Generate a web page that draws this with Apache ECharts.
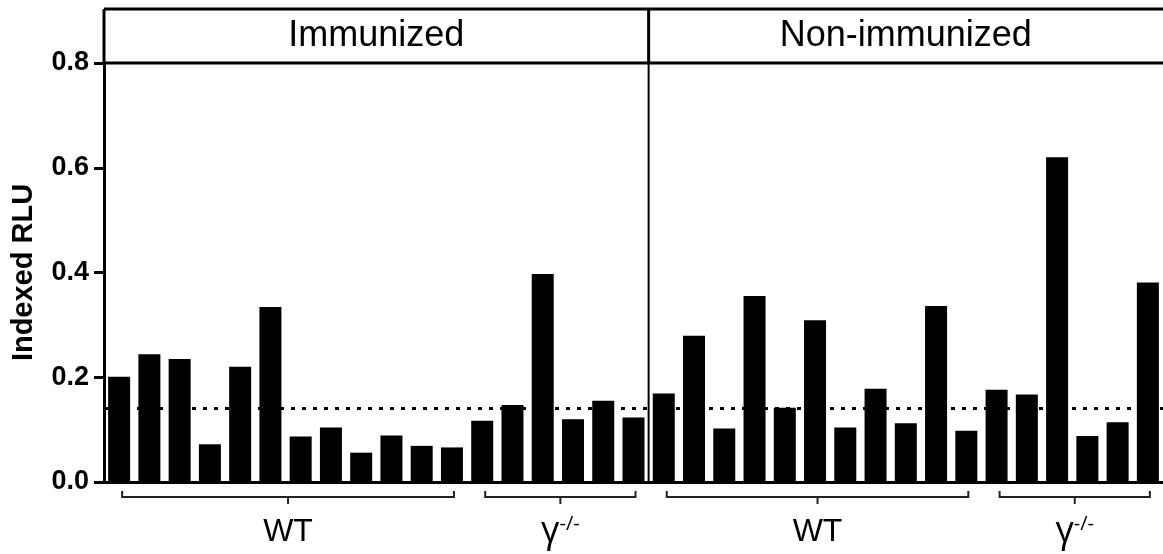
<!DOCTYPE html>
<html lang="en">
<head>
    <meta charset="UTF-8">
    <title>Indexed RLU</title>
    <style>
        html, body { margin: 0; padding: 0; background: #fff; }
        #box { width: 1163px; height: 554px; }
    </style>
    <script src="https://cdn.jsdelivr.net/npm/echarts@6/dist/echarts.min.js"></script>
</head>
<body>
<div id="box"></div>
<script>
    // panel titles and group labels
    const panels = ['Immunized', 'Non-immunized'];
    const groupNames = ['WT', 'γ-/-'];

    // bar values
    const immWT = [0.201, 0.244, 0.235, 0.072, 0.220, 0.334, 0.087, 0.104, 0.056, 0.089, 0.069, 0.066];
    const immKO = [0.117, 0.147, 0.397, 0.120, 0.155, 0.123];
    const nonWT = [0.169, 0.279, 0.102, 0.355, 0.142, 0.309, 0.104, 0.178, 0.112, 0.336, 0.098];
    const nonKO = [0.176, 0.167, 0.620, 0.088, 0.114, 0.381];

    // dotted cut-off line
    const cutoff = 0.143;

    // y axis ticks
    const yMin = 0, yMax = 0.8, yStep = 0.2;

    (function () {
        const FONT = '"Liberation Sans", Arial, sans-serif';
        const groups = [
            { panel: 0, label: groupNames[0], values: immWT },
            { panel: 0, label: groupNames[1], values: immKO },
            { panel: 1, label: groupNames[0], values: nonWT },
            { panel: 1, label: groupNames[1], values: nonKO }
        ];

        // one category per bar
        let cats = [], vals = [];
        groups.forEach(function (g) {
            g.first = cats.length;
            g.values.forEach(function (v, i) {
                cats.push(panels[g.panel] + ' ' + g.label + ' ' + (i + 1));
                vals.push(v);
            });
            g.last = cats.length - 1;
        });

        let chart = echarts.init(box);
        chart.setOption({
            animation: false,
            grid: { left: 104, right: 0, top: 63, bottom: 72, containLabel: false, outerBoundsMode: 'none' },
            xAxis: {
                type: 'category',
                data: cats,
                axisLine: { lineStyle: { color: '#000', width: 3 } },
                axisTick: { show: false },
                axisLabel: { show: false }
            },
            yAxis: {
                type: 'value',
                min: yMin, max: yMax, interval: yStep,
                name: 'Indexed RLU',
                nameLocation: 'middle',
                nameGap: 66,
                nameTextStyle: { color: '#000', fontSize: 29, fontWeight: 'bold', fontFamily: FONT },
                axisLine: { show: true, lineStyle: { color: '#000', width: 3 } },
                axisTick: { show: true, length: 10, lineStyle: { color: '#000', width: 3 } },
                axisLabel: {
                    margin: 15, color: '#000', fontSize: 27, fontWeight: 'bold', fontFamily: FONT,
                    formatter: function (v) { return v.toFixed(1); }
                },
                splitLine: { show: false }
            },
            series: [{
                type: 'bar',
                data: vals,
                barWidth: 22,
                itemStyle: { color: '#000' },
                markLine: {
                    silent: true,
                    symbol: 'none',
                    label: { show: false },
                    lineStyle: { color: '#000', width: 3, type: [4, 7] },
                    data: [{ yAxis: cutoff }]
                }
            }]
        });

        // frame, panel headers and group brackets from the axis scales
        const W = chart.getWidth();
        const px = function (i) { return chart.convertToPixel({ xAxisIndex: 0 }, cats[i]); };
        const py = function (v) { return chart.convertToPixel({ yAxisIndex: 0 }, v); };
        const x0 = px(0) - (px(1) - px(0)) / 2;
        const yTop = py(yMax), yBase = py(yMin);
        const headTop = yTop - 54;
        const split = (px(groups[1].last) + px(groups[2].first)) / 2;

        const line = function (pts, w, c) {
            return { type: 'polyline', shape: { points: pts }, style: { stroke: c || '#000', lineWidth: w, fill: null }, z: 10 };
        };

        let g = [
            line([[x0, headTop], [W, headTop]], 3),
            line([[x0, headTop], [x0, yTop]], 3),
            line([[x0, yTop], [W, yTop]], 3),
            line([[split, headTop], [split, yTop]], 3),
            line([[split, yTop], [split, yBase]], 2),
            { type: 'text', x: (x0 + split) / 2, y: (headTop + yTop) / 2, z: 10,
              style: { text: panels[0], fontSize: 36, fontFamily: FONT, fill: '#000', align: 'center', verticalAlign: 'middle' } },
            { type: 'text', x: (split + W) / 2, y: (headTop + yTop) / 2, z: 10,
              style: { text: panels[1], fontSize: 36, fontFamily: FONT, fill: '#000', align: 'center', verticalAlign: 'middle' } }
        ];

        const by = yBase + 15;
        groups.forEach(function (gr) {
            let a = px(gr.first) + 3, b = px(gr.last) + 2, c = (a + b) / 2;
            g.push(line([[a, by - 6], [a, by], [b, by], [b, by - 6]], 2, '#222'));
            g.push(line([[c, by], [c, by + 7]], 2, '#222'));
            let isKO = gr.label !== 'WT';
            g.push({
                type: 'text', x: c, y: by + 35, z: 10,
                style: {
                    text: isKO ? '{g|γ}{s|-/-}' : gr.label,
                    fontSize: 32, fontFamily: FONT, fill: '#000', align: 'center', verticalAlign: 'middle',
                    rich: {
                        g: { fontSize: 36, fontFamily: '"Open Sans", sans-serif', fill: '#000' },
                        s: { fontSize: 20, fontFamily: '"Open Sans", sans-serif', fill: '#000', verticalAlign: 'top' }
                    }
                }
            });
        });

        chart.setOption({ graphic: g });
    })();
</script>
</body>
</html>
